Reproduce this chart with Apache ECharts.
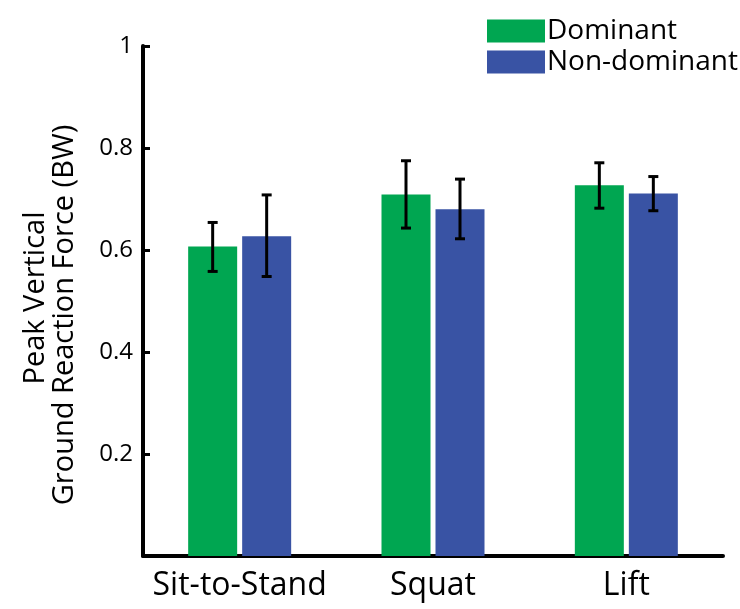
<!DOCTYPE html>
<html>
<head>
<meta charset="utf-8">
<script src="https://cdn.jsdelivr.net/npm/echarts@6/dist/echarts.min.js"></script>
<style>html,body{margin:0;padding:0;background:#fff}#c{width:740px;height:609px}</style>
</head>
<body>
<div id="c"></div>
<script>
var categories = ['Sit-to-Stand', 'Squat', 'Lift'];
var seriesNames = ['Dominant', 'Non-dominant'];
var dominantMean = [0.607, 0.709, 0.727];
var dominantLow = [0.558, 0.643, 0.682];
var dominantHigh = [0.654, 0.775, 0.771];
var nonDominantMean = [0.627, 0.680, 0.711];
var nonDominantLow = [0.548, 0.622, 0.677];
var nonDominantHigh = [0.708, 0.739, 0.744];
var yTicks = [0, 0.2, 0.4, 0.6, 0.8, 1];

var FONT = 'Open Sans';
var BAR_W = 49, BAR_GAP = 5;

function errData(low, high) {
  return categories.map(function (c, i) { return [i, low[i], high[i]]; });
}
function errSeries(low, high, side) {
  return {
    type: 'custom',
    data: errData(low, high),
    z: 10,
    silent: true,
    renderItem: function (params, api) {
      var idx = api.value(0);
      var lo = api.coord([idx, api.value(1)]);
      var hi = api.coord([idx, api.value(2)]);
      var x = lo[0] + side * (BAR_W + BAR_GAP) / 2;
      var cap = 5;
      var st = { stroke: '#000', lineWidth: 3 };
      return {
        type: 'group',
        children: [
          { type: 'line', shape: { x1: x, y1: hi[1], x2: x, y2: lo[1] }, style: st },
          { type: 'line', shape: { x1: x - cap, y1: hi[1], x2: x + cap, y2: hi[1] }, style: st },
          { type: 'line', shape: { x1: x - cap, y1: lo[1], x2: x + cap, y2: lo[1] }, style: st }
        ]
      };
    }
  };
}

var chart = echarts.init(document.getElementById('c'), null, { renderer: 'canvas' });
chart.setOption({
  animation: false,
  backgroundColor: '#fff',
  textStyle: { fontFamily: FONT },
  grid: { left: 143, right: 17, top: 46, bottom: 53 },
  legend: {
    orient: 'vertical',
    left: 482, top: 12,
    itemWidth: 58, itemHeight: 23, itemGap: 3,
    icon: 'rect',
    data: seriesNames,
    textStyle: { fontFamily: FONT, fontSize: 28, color: '#000', padding: [0, 0, 0, -3] },
    selectedMode: false
  },
  xAxis: {
    type: 'category',
    data: categories,
    axisLine: { lineStyle: { color: '#000', width: 4 } },
    axisTick: { show: false },
    axisLabel: { color: '#000', fontFamily: FONT, fontSize: 32, margin: 14, interval: 0 }
  },
  yAxis: {
    type: 'value',
    min: yTicks[0], max: yTicks[yTicks.length - 1], interval: 0.2,
    splitLine: { show: false },
    axisLine: { show: true, lineStyle: { color: '#000', width: 4 } },
    axisTick: { show: true, inside: true, length: 7, lineStyle: { color: '#000', width: 3 } },
    axisLabel: {
      color: '#000', fontFamily: FONT, fontSize: 24, margin: 10,
      formatter: function (v) { return v === 0 ? '' : String(Math.round(v * 10) / 10); }
    }
  },
  graphic: [
    { type: 'text', x: 36, y: 298, rotation: Math.PI / 2,
      style: { text: 'Peak Vertical', font: '29px "Open Sans"', fill: '#000', textAlign: 'center', textVerticalAlign: 'middle' } },
    { type: 'text', x: 65, y: 315, rotation: Math.PI / 2,
      style: { text: 'Ground Reaction Force (BW)', font: '29px "Open Sans"', fill: '#000', textAlign: 'center', textVerticalAlign: 'middle' } }
  ],
  series: [
    { name: seriesNames[0], type: 'bar', data: dominantMean, barWidth: BAR_W, barGap: (BAR_GAP / BAR_W * 100) + '%',
      itemStyle: { color: '#00A651' } },
    { name: seriesNames[1], type: 'bar', data: nonDominantMean, barWidth: BAR_W,
      itemStyle: { color: '#3953A4' } },
    errSeries(dominantLow, dominantHigh, -1),
    errSeries(nonDominantLow, nonDominantHigh, 1)
  ]
});
</script>
</body>
</html>
